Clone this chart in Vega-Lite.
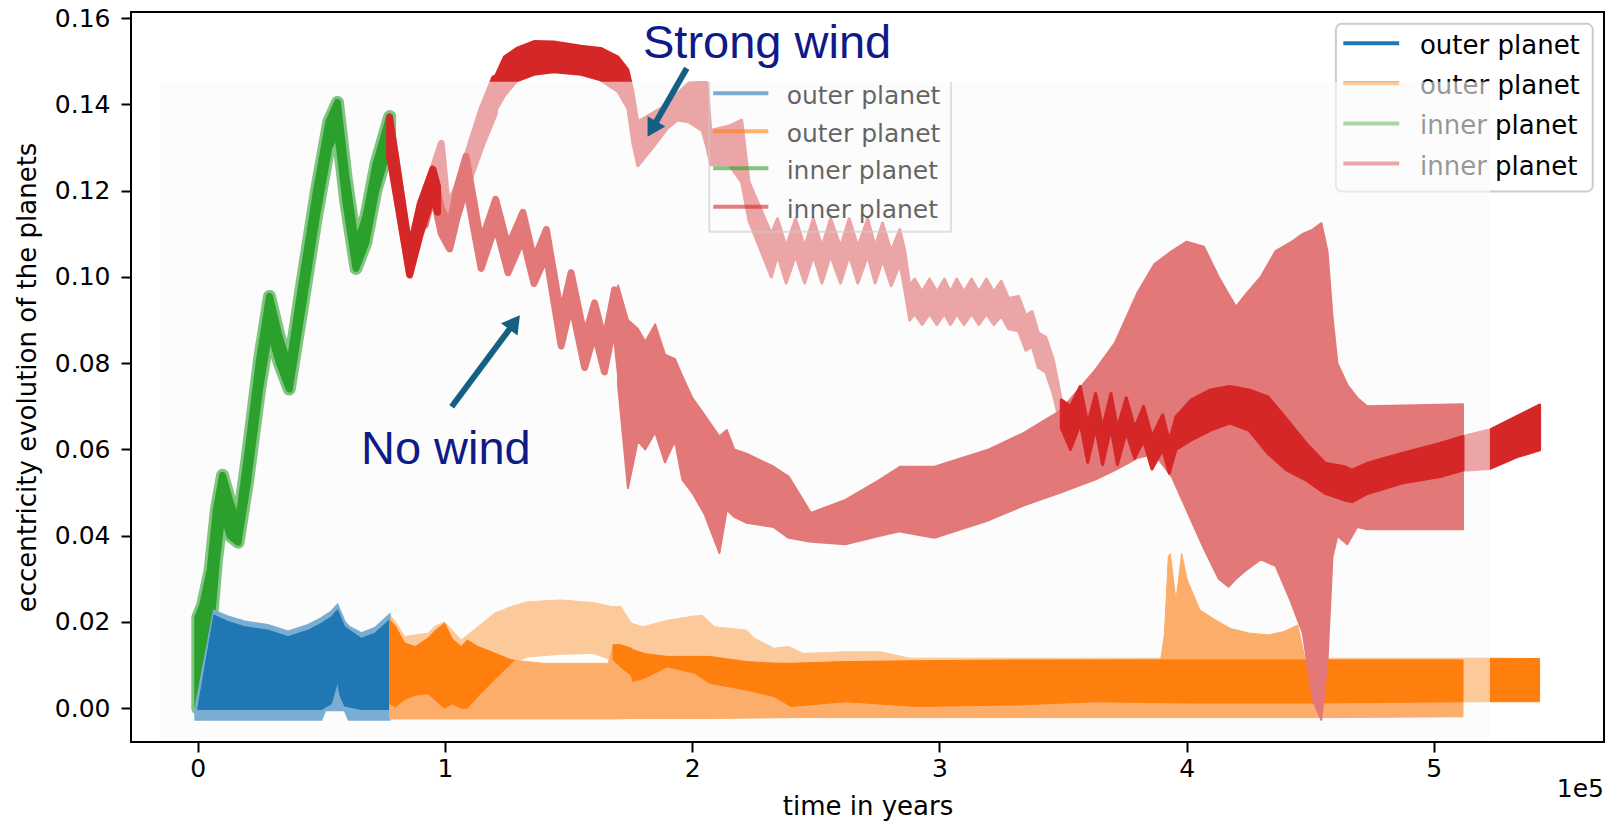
{
"$schema": "https://vega.github.io/schema/vega-lite/v6.json",
"width": 1473, "height": 730,
"autosize": {"type": "none"},
"padding": {"left": 131, "top": 12, "right": 3, "bottom": 86},
"background": "white",
"config": {
  "font": "DejaVu Sans",
  "view": {"stroke": "black", "strokeWidth": 2},
  "axis": {"grid": false, "domain": false, "tickColor": "black", "tickWidth": 2, "tickSize": 10, "labelColor": "black", "labelFontSize": 25, "titleFontSize": 26, "titleFontWeight": "normal", "titleColor": "black", "labelFont": "DejaVu Sans", "titleFont": "DejaVu Sans"}
},
"datasets": {
  "bands": [
    {"s":"G","t":0,"e":0.021,"e2":0},{"s":"G","t":2000,"e":0.024,"e2":0.004},{"s":"G","t":5000,"e":0.032,"e2":0.017},{"s":"G","t":7500,"e":0.046,"e2":0.034},{"s":"G","t":10000,"e":0.054,"e2":0.046},{"s":"G","t":13000,"e":0.048,"e2":0.040},{"s":"G","t":16300,"e":0.0425,"e2":0.0385},{"s":"G","t":20000,"e":0.058,"e2":0.052},{"s":"G","t":25000,"e":0.081,"e2":0.074},{"s":"G","t":29000,"e":0.0955,"e2":0.088},{"s":"G","t":33000,"e":0.086,"e2":0.080},{"s":"G","t":37000,"e":0.079,"e2":0.074},{"s":"G","t":42000,"e":0.098,"e2":0.092},{"s":"G","t":48000,"e":0.120,"e2":0.114},{"s":"G","t":53000,"e":0.136,"e2":0.130},{"s":"G","t":56500,"e":0.1405,"e2":0.134},{"s":"G","t":60000,"e":0.123,"e2":0.117},{"s":"G","t":64000,"e":0.107,"e2":0.102},{"s":"G","t":68000,"e":0.114,"e2":0.108},{"s":"G","t":72000,"e":0.126,"e2":0.120},{"s":"G","t":77600,"e":0.1372,"e2":0.131},

    {"s":"Bl","t":-1000,"e":0.0,"e2":-0.0027},{"s":"Bl","t":3000,"e":0.012,"e2":-0.0027},{"s":"Bl","t":6500,"e":0.0226,"e2":-0.0027},{"s":"Bl","t":12200,"e":0.0213,"e2":-0.0027},{"s":"Bl","t":19000,"e":0.0201,"e2":-0.0027},{"s":"Bl","t":28400,"e":0.0193,"e2":-0.0027},{"s":"Bl","t":36500,"e":0.0178,"e2":-0.0027},{"s":"Bl","t":44600,"e":0.0193,"e2":-0.0027},{"s":"Bl","t":50000,"e":0.0209,"e2":-0.0027},{"s":"Bl","t":51500,"e":0.0215,"e2":-0.0005},{"s":"Bl","t":54000,"e":0.0224,"e2":-0.0005},{"s":"Bl","t":56500,"e":0.0240,"e2":-0.0005},{"s":"Bl","t":59400,"e":0.0201,"e2":-0.0005},{"s":"Bl","t":61000,"e":0.0190,"e2":-0.0027},{"s":"Bl","t":66200,"e":0.0174,"e2":-0.0027},{"s":"Bl","t":71600,"e":0.0186,"e2":-0.0027},{"s":"Bl","t":77600,"e":0.0217,"e2":-0.0027},

    {"s":"Bd","t":0,"e":0.0,"e2":-0.0003},{"s":"Bd","t":3000,"e":0.010,"e2":-0.0003},{"s":"Bd","t":6500,"e":0.0216,"e2":-0.0003},{"s":"Bd","t":12200,"e":0.0201,"e2":-0.0003},{"s":"Bd","t":19000,"e":0.0189,"e2":-0.0003},{"s":"Bd","t":28400,"e":0.0181,"e2":-0.0003},{"s":"Bd","t":36500,"e":0.0166,"e2":-0.0003},{"s":"Bd","t":44600,"e":0.0181,"e2":-0.0003},{"s":"Bd","t":50000,"e":0.0197,"e2":-0.0003},{"s":"Bd","t":54000,"e":0.0212,"e2":0.001},{"s":"Bd","t":55500,"e":0.0222,"e2":0.004},{"s":"Bd","t":56500,"e":0.0228,"e2":0.006},{"s":"Bd","t":57500,"e":0.0215,"e2":0.003},{"s":"Bd","t":59400,"e":0.0189,"e2":0.0005},{"s":"Bd","t":66200,"e":0.0162,"e2":-0.0003},{"s":"Bd","t":71600,"e":0.0174,"e2":-0.0003},{"s":"Bd","t":77600,"e":0.0205,"e2":-0.0003},

    {"s":"So","t":77600,"e":0.0216,"e2":0.001},{"s":"So","t":80000,"e":0.020,"e2":0.0003},{"s":"So","t":83700,"e":0.0166,"e2":0.002},{"s":"So","t":88000,"e":0.0170,"e2":0.003},{"s":"So","t":93100,"e":0.0174,"e2":0.0034},{"s":"So","t":96000,"e":0.0190,"e2":0.0019},{"s":"So","t":99800,"e":0.0200,"e2":0.0},{"s":"So","t":106600,"e":0.0158,"e2":0.0},{"s":"So","t":113300,"e":0.0189,"e2":0.0027},{"s":"So","t":120000,"e":0.022,"e2":0.0066},{"s":"So","t":126800,"e":0.0236,"e2":0.0104},{"s":"So","t":133500,"e":0.0247,"e2":0.0119},{"s":"So","t":147000,"e":0.0251,"e2":0.0125},{"s":"So","t":160000,"e":0.0245,"e2":0.0127},{"s":"So","t":167200,"e":0.0236,"e2":0.0112},{"s":"So","t":171100,"e":0.0236,"e2":0.0095},{"s":"So","t":175400,"e":0.0197,"e2":0.0075},{"s":"So","t":180000,"e":0.0189,"e2":0.0068},{"s":"So","t":190000,"e":0.0204,"e2":0.0096},{"s":"So","t":201000,"e":0.0214,"e2":0.0081},{"s":"So","t":204000,"e":0.0216,"e2":0.0070},{"s":"So","t":209000,"e":0.0189,"e2":0.0055},{"s":"So","t":222000,"e":0.0181,"e2":0.0042},{"s":"So","t":225000,"e":0.0163,"e2":0.0038},{"s":"So","t":233000,"e":0.0139,"e2":0.0027},{"s":"So","t":239000,"e":0.0143,"e2":0.0006},{"s":"So","t":245000,"e":0.0127,"e2":0.0006},{"s":"So","t":262000,"e":0.0131,"e2":0.0015},{"s":"So","t":276000,"e":0.0131,"e2":0.0010},{"s":"So","t":288000,"e":0.0116,"e2":0.0004},{"s":"So","t":334000,"e":0.0116,"e2":0.0008},{"s":"So","t":363000,"e":0.0116,"e2":0.0015},{"s":"So","t":450000,"e":0.0116,"e2":0.0012},{"s":"So","t":520000,"e":0.0116,"e2":0.0015},{"s":"So","t":542800,"e":0.0115,"e2":0.0015},

    {"s":"No","t":77600,"e":0.0205,"e2":-0.0025},{"s":"No","t":80000,"e":0.019,"e2":-0.0025},{"s":"No","t":83700,"e":0.0151,"e2":-0.0025},{"s":"No","t":88000,"e":0.0143,"e2":-0.0025},{"s":"No","t":93000,"e":0.0162,"e2":-0.0025},{"s":"No","t":99800,"e":0.0197,"e2":-0.0025},{"s":"No","t":103000,"e":0.016,"e2":-0.0025},{"s":"No","t":106600,"e":0.0143,"e2":-0.0025},{"s":"No","t":109000,"e":0.0158,"e2":-0.0025},{"s":"No","t":113300,"e":0.0143,"e2":-0.0025},{"s":"No","t":120000,"e":0.0128,"e2":-0.0025},{"s":"No","t":126800,"e":0.0112,"e2":-0.0025},{"s":"No","t":140000,"e":0.0104,"e2":-0.0025},{"s":"No","t":166000,"e":0.0104,"e2":-0.0025},{"s":"No","t":168000,"e":0.0147,"e2":-0.0025},{"s":"No","t":175400,"e":0.0139,"e2":-0.0024},{"s":"No","t":180000,"e":0.0128,"e2":-0.0024},{"s":"No","t":190000,"e":0.012,"e2":-0.0024},{"s":"No","t":207000,"e":0.012,"e2":-0.0024},{"s":"No","t":222000,"e":0.0108,"e2":-0.0023},{"s":"No","t":240000,"e":0.0104,"e2":-0.0022},{"s":"No","t":262000,"e":0.0108,"e2":-0.0022},{"s":"No","t":300000,"e":0.011,"e2":-0.0022},{"s":"No","t":389500,"e":0.0112,"e2":-0.0022},{"s":"No","t":391000,"e":0.017,"e2":-0.0022},{"s":"No","t":392600,"e":0.0351,"e2":-0.0022},{"s":"No","t":393400,"e":0.0359,"e2":-0.0022},{"s":"No","t":395700,"e":0.0251,"e2":-0.0022},{"s":"No","t":398000,"e":0.0359,"e2":-0.0022},{"s":"No","t":400300,"e":0.0297,"e2":-0.0022},{"s":"No","t":405400,"e":0.0228,"e2":-0.0022},{"s":"No","t":411600,"e":0.0205,"e2":-0.0022},{"s":"No","t":417700,"e":0.0185,"e2":-0.0022},{"s":"No","t":425500,"e":0.0174,"e2":-0.0022},{"s":"No","t":433000,"e":0.0170,"e2":-0.0022},{"s":"No","t":439000,"e":0.0177,"e2":-0.0022},{"s":"No","t":445000,"e":0.0193,"e2":-0.0022},{"s":"No","t":448000,"e":0.0112,"e2":-0.0022},{"s":"No","t":511800,"e":0.0112,"e2":-0.0020},

    {"s":"Od1","t":77600,"e":0.0205,"e2":0.001},{"s":"Od1","t":80000,"e":0.019,"e2":0.0003},{"s":"Od1","t":83700,"e":0.0151,"e2":0.002},{"s":"Od1","t":88000,"e":0.0143,"e2":0.003},{"s":"Od1","t":93000,"e":0.0162,"e2":0.0034},{"s":"Od1","t":96000,"e":0.018,"e2":0.0019},{"s":"Od1","t":99800,"e":0.0197,"e2":0.0},{"s":"Od1","t":103000,"e":0.016,"e2":0.001},{"s":"Od1","t":106600,"e":0.0143,"e2":0.0},{"s":"Od1","t":109000,"e":0.0158,"e2":0.0},{"s":"Od1","t":113300,"e":0.0143,"e2":0.0027},{"s":"Od1","t":120000,"e":0.0128,"e2":0.0066},{"s":"Od1","t":126800,"e":0.0112,"e2":0.0104},{"s":"Od1","t":128000,"e":0.0112,"e2":0.0111},
    {"s":"Od2","t":168000,"e":0.0147,"e2":0.0112},{"s":"Od2","t":171100,"e":0.0147,"e2":0.0095},{"s":"Od2","t":175400,"e":0.0139,"e2":0.0075},{"s":"Od2","t":176000,"e":0.0135,"e2":0.0062},{"s":"Od2","t":180000,"e":0.0128,"e2":0.0068},{"s":"Od2","t":182000,"e":0.0125,"e2":0.0073},{"s":"Od2","t":190000,"e":0.012,"e2":0.0096},{"s":"Od2","t":201000,"e":0.012,"e2":0.0081},{"s":"Od2","t":207000,"e":0.012,"e2":0.0058},{"s":"Od2","t":222000,"e":0.0108,"e2":0.0042},{"s":"Od2","t":233000,"e":0.0104,"e2":0.0027},{"s":"Od2","t":240000,"e":0.0104,"e2":0.0004},{"s":"Od2","t":262000,"e":0.0108,"e2":0.0015},{"s":"Od2","t":291000,"e":0.011,"e2":0.0004},{"s":"Od2","t":334000,"e":0.0112,"e2":0.0008},{"s":"Od2","t":363000,"e":0.0112,"e2":0.0015},{"s":"Od2","t":400000,"e":0.0112,"e2":0.0012},{"s":"Od2","t":450000,"e":0.0112,"e2":0.0012},{"s":"Od2","t":511800,"e":0.0112,"e2":0.0015},

    {"s":"Sra","t":77600,"e":0.137,"e2":0.128},{"s":"Sra","t":80000,"e":0.128,"e2":0.120},{"s":"Sra","t":85700,"e":0.106,"e2":0.1005},{"s":"Sra","t":90000,"e":0.117,"e2":0.110},{"s":"Sra","t":95100,"e":0.125,"e2":0.118},{"s":"Sra","t":98500,"e":0.131,"e2":0.125},{"s":"Sra","t":101000,"e":0.116,"e2":0.110},{"s":"Sra","t":105000,"e":0.121,"e2":0.114},{"s":"Sra","t":110000,"e":0.130,"e2":0.123},{"s":"Sra","t":115000,"e":0.139,"e2":0.131},{"s":"Sra","t":120000,"e":0.146,"e2":0.138},

    {"s":"Srb","t":120000,"e":0.146,"e2":0.138},{"s":"Srb","t":124000,"e":0.151,"e2":0.142},{"s":"Srb","t":129000,"e":0.153,"e2":0.1455},{"s":"Srb","t":136000,"e":0.1546,"e2":0.147},{"s":"Srb","t":144000,"e":0.1545,"e2":0.1476},{"s":"Srb","t":155000,"e":0.1535,"e2":0.147},{"s":"Srb","t":163000,"e":0.153,"e2":0.1457},{"s":"Srb","t":170000,"e":0.151,"e2":0.143},{"s":"Srb","t":174000,"e":0.148,"e2":0.139},{"s":"Srb","t":176000,"e":0.143,"e2":0.131},{"s":"Srb","t":178000,"e":0.136,"e2":0.1258},{"s":"Srb","t":184000,"e":0.138,"e2":0.130},{"s":"Srb","t":190000,"e":0.140,"e2":0.1345},{"s":"Srb","t":194000,"e":0.1425,"e2":0.1364},{"s":"Srb","t":198500,"e":0.1449,"e2":0.136},{"s":"Srb","t":204000,"e":0.145,"e2":0.134},{"s":"Srb","t":206000,"e":0.145,"e2":0.130},{"s":"Srb","t":207500,"e":0.134,"e2":0.126},{"s":"Srb","t":215000,"e":0.135,"e2":0.126},{"s":"Srb","t":220000,"e":0.1364,"e2":0.122},{"s":"Srb","t":223000,"e":0.122,"e2":0.113},{"s":"Srb","t":232000,"e":0.110,"e2":0.100},
    {"s":"Srb","t":234500,"e":0.1135,"e2":0.105},{"s":"Srb","t":238000,"e":0.107,"e2":0.0986},{"s":"Srb","t":241800,"e":0.1135,"e2":0.105},{"s":"Srb","t":245500,"e":0.107,"e2":0.0986},{"s":"Srb","t":249000,"e":0.1135,"e2":0.105},{"s":"Srb","t":252500,"e":0.107,"e2":0.0986},{"s":"Srb","t":256000,"e":0.1135,"e2":0.105},{"s":"Srb","t":260000,"e":0.107,"e2":0.0986},{"s":"Srb","t":263500,"e":0.1135,"e2":0.105},{"s":"Srb","t":267000,"e":0.107,"e2":0.0986},{"s":"Srb","t":271000,"e":0.1135,"e2":0.105},{"s":"Srb","t":274000,"e":0.107,"e2":0.0986},{"s":"Srb","t":277000,"e":0.1125,"e2":0.104},{"s":"Srb","t":280500,"e":0.106,"e2":0.098},{"s":"Srb","t":284000,"e":0.111,"e2":0.103},{"s":"Srb","t":286000,"e":0.106,"e2":0.097},{"s":"Srb","t":288000,"e":0.098,"e2":0.090},
    {"s":"Srb","t":290000,"e":0.0995,"e2":0.0915},{"s":"Srb","t":293000,"e":0.0965,"e2":0.089},{"s":"Srb","t":296000,"e":0.0995,"e2":0.0915},{"s":"Srb","t":299000,"e":0.0965,"e2":0.089},{"s":"Srb","t":302000,"e":0.0995,"e2":0.0915},{"s":"Srb","t":304500,"e":0.0965,"e2":0.089},{"s":"Srb","t":307000,"e":0.0995,"e2":0.0915},{"s":"Srb","t":310000,"e":0.0965,"e2":0.089},{"s":"Srb","t":313000,"e":0.0995,"e2":0.0915},{"s":"Srb","t":316000,"e":0.0965,"e2":0.089},{"s":"Srb","t":319000,"e":0.0995,"e2":0.0915},{"s":"Srb","t":322000,"e":0.0965,"e2":0.089},{"s":"Srb","t":325000,"e":0.099,"e2":0.091},{"s":"Srb","t":328000,"e":0.095,"e2":0.088},{"s":"Srb","t":332000,"e":0.0955,"e2":0.0875},{"s":"Srb","t":335000,"e":0.091,"e2":0.083},{"s":"Srb","t":337500,"e":0.092,"e2":0.084},{"s":"Srb","t":340000,"e":0.087,"e2":0.079},{"s":"Srb","t":343000,"e":0.086,"e2":0.078},{"s":"Srb","t":346000,"e":0.081,"e2":0.073},
    {"s":"Srb","t":349300,"e":0.0715,"e2":0.065},{"s":"Srb","t":353000,"e":0.070,"e2":0.060},{"s":"Srb","t":357000,"e":0.0746,"e2":0.066},{"s":"Srb","t":360000,"e":0.066,"e2":0.057},{"s":"Srb","t":363200,"e":0.073,"e2":0.065},{"s":"Srb","t":366000,"e":0.065,"e2":0.0565},{"s":"Srb","t":369400,"e":0.073,"e2":0.065},{"s":"Srb","t":372000,"e":0.065,"e2":0.0565},{"s":"Srb","t":375600,"e":0.072,"e2":0.064},{"s":"Srb","t":379000,"e":0.065,"e2":0.058},{"s":"Srb","t":382600,"e":0.070,"e2":0.062},{"s":"Srb","t":386000,"e":0.063,"e2":0.0555},{"s":"Srb","t":390300,"e":0.068,"e2":0.060},{"s":"Srb","t":393000,"e":0.062,"e2":0.0545},{"s":"Srb","t":395700,"e":0.0676,"e2":0.060},{"s":"Srb","t":401900,"e":0.0715,"e2":0.0622},{"s":"Srb","t":409700,"e":0.0738,"e2":0.0645},{"s":"Srb","t":417400,"e":0.0746,"e2":0.0661},{"s":"Srb","t":425200,"e":0.0738,"e2":0.0645},{"s":"Srb","t":432900,"e":0.0722,"e2":0.0591},{"s":"Srb","t":440600,"e":0.0669,"e2":0.0552},{"s":"Srb","t":448400,"e":0.0614,"e2":0.0529},{"s":"Srb","t":456100,"e":0.0568,"e2":0.0498},{"s":"Srb","t":463800,"e":0.0560,"e2":0.0483},{"s":"Srb","t":466900,"e":0.0552,"e2":0.0479},{"s":"Srb","t":473100,"e":0.0568,"e2":0.0498},{"s":"Srb","t":487100,"e":0.0591,"e2":0.0522},{"s":"Srb","t":502600,"e":0.0614,"e2":0.0537},{"s":"Srb","t":511800,"e":0.0630,"e2":0.0552},{"s":"Srb","t":522700,"e":0.0645,"e2":0.0556},{"s":"Srb","t":533500,"e":0.0676,"e2":0.0583},{"s":"Srb","t":542800,"e":0.0703,"e2":0.0599},

    {"s":"Nrz","t":92000,"e":0.120,"e2":0.112},{"s":"Nrz","t":95100,"e":0.125,"e2":0.119},{"s":"Nrz","t":98500,"e":0.116,"e2":0.110},{"s":"Nrz","t":101900,"e":0.112,"e2":0.1065},{"s":"Nrz","t":105000,"e":0.121,"e2":0.114},{"s":"Nrz","t":108500,"e":0.128,"e2":0.121},{"s":"Nrz","t":114600,"e":0.108,"e2":0.102},{"s":"Nrz","t":120500,"e":0.118,"e2":0.112},{"s":"Nrz","t":125500,"e":0.107,"e2":0.101},{"s":"Nrz","t":131500,"e":0.115,"e2":0.109},{"s":"Nrz","t":136000,"e":0.104,"e2":0.0985},{"s":"Nrz","t":141000,"e":0.111,"e2":0.105},{"s":"Nrz","t":147000,"e":0.091,"e2":0.084},{"s":"Nrz","t":151000,"e":0.101,"e2":0.094},{"s":"Nrz","t":156500,"e":0.086,"e2":0.079},{"s":"Nrz","t":160500,"e":0.094,"e2":0.087},{"s":"Nrz","t":164500,"e":0.085,"e2":0.078},{"s":"Nrz","t":168600,"e":0.097,"e2":0.090},{"s":"Nrz","t":172000,"e":0.090,"e2":0.072},

    {"s":"Nrw","t":170000,"e":0.098,"e2":0.075},{"s":"Nrw","t":174000,"e":0.090,"e2":0.051},{"s":"Nrw","t":178000,"e":0.088,"e2":0.062},{"s":"Nrw","t":181000,"e":0.085,"e2":0.060},{"s":"Nrw","t":185000,"e":0.089,"e2":0.064},{"s":"Nrw","t":189000,"e":0.082,"e2":0.057},{"s":"Nrw","t":193000,"e":0.081,"e2":0.062},{"s":"Nrw","t":196000,"e":0.077,"e2":0.053},{"s":"Nrw","t":200000,"e":0.072,"e2":0.050},{"s":"Nrw","t":205000,"e":0.068,"e2":0.045},{"s":"Nrw","t":211000,"e":0.063,"e2":0.036},{"s":"Nrw","t":214000,"e":0.0645,"e2":0.046},{"s":"Nrw","t":217000,"e":0.060,"e2":0.0444},{"s":"Nrw","t":222000,"e":0.059,"e2":0.043},{"s":"Nrw","t":233000,"e":0.056,"e2":0.042},{"s":"Nrw","t":239000,"e":0.0537,"e2":0.0395},{"s":"Nrw","t":248000,"e":0.0453,"e2":0.0386},{"s":"Nrw","t":262000,"e":0.0483,"e2":0.038},{"s":"Nrw","t":276000,"e":0.053,"e2":0.040},{"s":"Nrw","t":284000,"e":0.056,"e2":0.041},{"s":"Nrw","t":298000,"e":0.056,"e2":0.0395},{"s":"Nrw","t":320000,"e":0.060,"e2":0.0436},{"s":"Nrw","t":334000,"e":0.0638,"e2":0.047},{"s":"Nrw","t":349000,"e":0.069,"e2":0.050},{"s":"Nrw","t":363000,"e":0.0784,"e2":0.053},{"s":"Nrw","t":371000,"e":0.0847,"e2":0.0552},{"s":"Nrw","t":380000,"e":0.0962,"e2":0.058},{"s":"Nrw","t":387000,"e":0.103,"e2":0.059},{"s":"Nrw","t":394000,"e":0.106,"e2":0.0537},{"s":"Nrw","t":400000,"e":0.1082,"e2":0.046},{"s":"Nrw","t":407000,"e":0.107,"e2":0.037},{"s":"Nrw","t":413000,"e":0.100,"e2":0.030},{"s":"Nrw","t":417000,"e":0.096,"e2":0.0282},{"s":"Nrw","t":420000,"e":0.0931,"e2":0.030},{"s":"Nrw","t":424000,"e":0.096,"e2":0.032},{"s":"Nrw","t":430000,"e":0.100,"e2":0.0345},{"s":"Nrw","t":436000,"e":0.106,"e2":0.033},{"s":"Nrw","t":442000,"e":0.108,"e2":0.025},{"s":"Nrw","t":447000,"e":0.110,"e2":0.0174},{"s":"Nrw","t":451000,"e":0.111,"e2":0.002},{"s":"Nrw","t":454500,"e":0.1125,"e2":-0.0027},{"s":"Nrw","t":457000,"e":0.106,"e2":0.011},{"s":"Nrw","t":459000,"e":0.091,"e2":0.035},{"s":"Nrw","t":461000,"e":0.080,"e2":0.040},{"s":"Nrw","t":465000,"e":0.075,"e2":0.038},{"s":"Nrw","t":469000,"e":0.072,"e2":0.042},{"s":"Nrw","t":473000,"e":0.070,"e2":0.0415},{"s":"Nrw","t":511800,"e":0.0705,"e2":0.0415},

    {"s":"Dre","t":77600,"e":0.137,"e2":0.128},{"s":"Dre","t":80000,"e":0.128,"e2":0.120},{"s":"Dre","t":85700,"e":0.106,"e2":0.1005},{"s":"Dre","t":90000,"e":0.117,"e2":0.110},{"s":"Dre","t":95100,"e":0.125,"e2":0.119},{"s":"Dre","t":97000,"e":0.121,"e2":0.115}
  ],
  "ovl": [{"t":-15000,"t2":522700,"e":0.14529,"e2":-0.00675}],
  "trbox": [{"t":460400,"t2":564300,"e":0.1587,"e2":0.1198}],
  "trlines": [{"k":"a","t":463400,"t2":486000,"e":0.1542},{"k":"b","t":463400,"t2":486000,"e":0.1449},{"k":"c","t":463400,"t2":486000,"e":0.1356},{"k":"d","t":463400,"t2":486000,"e":0.1263}],
  "trtext": [{"label":"outer planet","t":494400,"e":0.1535},{"label":"outer planet","t":494400,"e":0.1442},{"label":"inner planet","t":494400,"e":0.1349},{"label":"inner planet","t":494400,"e":0.1256}],
  "inframe": [{"t":206900,"t2":206900,"e":0.14529,"e2":0.1105},{"t":304700,"t2":304700,"e":0.14529,"e2":0.1105},{"t":206900,"t2":304700,"e":0.1105,"e2":0.1105}],
  "inlines": [{"k":"a","t":208500,"t2":230800,"e":0.1426},{"k":"b","t":208500,"t2":230800,"e":0.1338},{"k":"c","t":208500,"t2":230800,"e":0.1252},{"k":"d","t":208500,"t2":230800,"e":0.1163}],
  "intext": [{"label":"outer planet","t":238200,"e":0.1419},{"label":"outer planet","t":238200,"e":0.1331},{"label":"inner planet","t":238200,"e":0.1245},{"label":"inner planet","t":238200,"e":0.1156}],
  "arrows": [{"n":"strong","t":197800,"e":0.1484,"t2":183740,"e2":0.1343},{"n":"no","t":102700,"e":0.0699,"t2":128160,"e2":0.0895}],
  "notes": [{"label":"Strong wind","t":180100,"e":0.1507},{"label":"No wind","t":66000,"e":0.0566}],
  "exp": [{"label":"1e5","t":568850,"e":-0.0206}]
},
"encoding": {
  "x": {"field":"t","type":"quantitative","scale":{"domain":[-27020,568850],"nice":false,"zero":false},
        "axis":{"values":[0,100000,200000,300000,400000,500000],"labelExpr":"datum.value/100000","title":"time in years","labelPadding":4,"titlePadding":12}},
  "y": {"field":"e","type":"quantitative","scale":{"domain":[-0.00784,0.16145],"nice":false,"zero":false},
        "axis":{"values":[0,0.02,0.04,0.06,0.08,0.1,0.12,0.14,0.16],"format":".2f","title":"eccentricity evolution of the planets","labelPadding":11,"titlePadding":14}}
},
"layer": [
  {"data":{"name":"trbox"},"mark":{"type":"rect","fill":"white","stroke":"#cccccc","strokeWidth":2,"cornerRadius":6},"encoding":{"x2":{"field":"t2"},"y2":{"field":"e2"}}},
  {"data":{"name":"trlines"},"mark":{"type":"rule","strokeWidth":4},"encoding":{"x2":{"field":"t2"},"color":{"field":"k","type":"nominal","scale":{"domain":["a","b","c","d"],"range":["#1f77b4","#ff7f0e","#2ca02c","#d62728"]},"legend":null}}},
  {"data":{"name":"trtext"},"mark":{"type":"text","align":"left","baseline":"middle","fontSize":26,"color":"black","font":"DejaVu Sans"},"encoding":{"text":{"field":"label"}}},
  {"data":{"name":"bands"},"transform":[{"filter":{"field":"s","equal":"So"}}],"mark":{"type":"area","color":"#ff7f0e","stroke":"#ff7f0e","strokeWidth":1},"encoding":{"y2":{"field":"e2"}}},
  {"data":{"name":"bands"},"transform":[{"filter":{"field":"s","equal":"Sra"}}],"mark":{"type":"area","color":"#d62728","stroke":"#d62728","strokeWidth":7,"strokeJoin":"round"},"encoding":{"y2":{"field":"e2"}}},
  {"data":{"name":"bands"},"transform":[{"filter":{"field":"s","equal":"Srb"}}],"mark":{"type":"area","color":"#d62728","stroke":"#d62728","strokeWidth":3,"strokeJoin":"round"},"encoding":{"y2":{"field":"e2"}}},
  {"data":{"name":"ovl"},"mark":{"type":"rect","fill":"#fafafa","opacity":0.6},"encoding":{"x2":{"field":"t2"},"y2":{"field":"e2"}}},
  {"data":{"name":"bands"},"transform":[{"filter":{"field":"s","equal":"G"}}],"mark":{"type":"area","color":"#80c680","stroke":"#80c680","strokeWidth":13,"strokeJoin":"round"},"encoding":{"y2":{"field":"e2"}}},
  {"data":{"name":"bands"},"transform":[{"filter":{"field":"s","equal":"G"}}],"mark":{"type":"area","color":"#2ca02c","stroke":"#2ca02c","strokeWidth":7,"strokeJoin":"round"},"encoding":{"y2":{"field":"e2"}}},
  {"data":{"name":"bands"},"transform":[{"filter":{"field":"s","equal":"Bl"}}],"mark":{"type":"area","color":"#79add2","stroke":"#79add2","strokeWidth":2},"encoding":{"y2":{"field":"e2"}}},
  {"data":{"name":"bands"},"transform":[{"filter":{"field":"s","equal":"Bd"}}],"mark":{"type":"area","color":"#1f77b4","stroke":"#1f77b4","strokeWidth":1},"encoding":{"y2":{"field":"e2"}}},
  {"data":{"name":"bands"},"transform":[{"filter":{"field":"s","equal":"No"}}],"mark":{"type":"area","color":"#fdad6a","stroke":"#fdad6a","strokeWidth":1},"encoding":{"y2":{"field":"e2"}}},
  {"data":{"name":"bands"},"transform":[{"filter":{"field":"s","oneOf":["Od1","Od2"]}}],"mark":{"type":"area","color":"#ff7f0e","stroke":"#ff7f0e","strokeWidth":1},"encoding":{"y2":{"field":"e2"},"detail":{"field":"s"}}},
  {"data":{"name":"bands"},"transform":[{"filter":{"field":"s","equal":"Nrz"}}],"mark":{"type":"area","color":"#e27878","stroke":"#e27878","strokeWidth":7,"strokeJoin":"round"},"encoding":{"y2":{"field":"e2"}}},
  {"data":{"name":"bands"},"transform":[{"filter":{"field":"s","equal":"Nrw"}}],"mark":{"type":"area","color":"#e27878","stroke":"#e27878","strokeWidth":2,"strokeJoin":"round"},"encoding":{"y2":{"field":"e2"}}},
  {"data":{"name":"bands"},"transform":[{"filter":{"field":"s","equal":"Dre"}}],"mark":{"type":"area","color":"#d62728","stroke":"#d62728","strokeWidth":7,"strokeJoin":"round"},"encoding":{"y2":{"field":"e2"}}},
  {"data":{"name":"bands"},"transform":[{"filter":"datum.s == 'Srb' && datum.t >= 349300 && datum.t <= 511800"}],"mark":{"type":"area","color":"#d62728","stroke":"#d62728","strokeWidth":3,"strokeJoin":"round"},"encoding":{"y2":{"field":"e2"}}},
  {"data":{"name":"inframe"},"mark":{"type":"rule","color":"#cccccc","strokeWidth":2,"opacity":0.6},"encoding":{"x2":{"field":"t2"},"y2":{"field":"e2"}}},
  {"data":{"name":"inlines"},"mark":{"type":"rule","strokeWidth":4,"opacity":0.6},"encoding":{"x2":{"field":"t2"},"color":{"field":"k","type":"nominal","legend":null}}},
  {"data":{"name":"intext"},"mark":{"type":"text","align":"left","baseline":"middle","fontSize":25,"color":"black","opacity":0.6,"font":"DejaVu Sans"},"encoding":{"text":{"field":"label"}}},
  {"data":{"name":"arrows"},"mark":{"type":"rule","color":"#156082","strokeWidth":6},"encoding":{"x2":{"field":"t2"},"y2":{"field":"e2"}}},
  {"data":{"name":"arrows"},"transform":[{"filter":{"field":"n","equal":"strong"}}],"mark":{"type":"point","shape":"triangle-up","filled":true,"size":420,"angle":210,"color":"#156082","opacity":1},"encoding":{"x":{"field":"t2","type":"quantitative"},"y":{"field":"e2","type":"quantitative"}}},
  {"data":{"name":"arrows"},"transform":[{"filter":{"field":"n","equal":"no"}}],"mark":{"type":"point","shape":"triangle-up","filled":true,"size":420,"angle":36.7,"color":"#156082","opacity":1},"encoding":{"x":{"field":"t2","type":"quantitative"},"y":{"field":"e2","type":"quantitative"}}},
  {"data":{"name":"notes"},"mark":{"type":"text","align":"left","baseline":"alphabetic","fontSize":47,"font":"Liberation Sans","color":"#0f1a87"},"encoding":{"text":{"field":"label"}}},
  {"data":{"name":"exp"},"mark":{"type":"text","align":"right","baseline":"alphabetic","fontSize":25,"font":"DejaVu Sans","color":"black"},"encoding":{"text":{"field":"label"}}}
]
}
